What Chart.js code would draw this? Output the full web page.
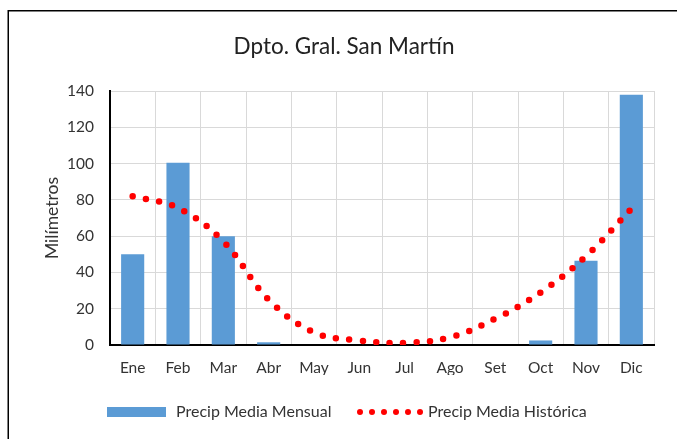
<!DOCTYPE html>
<html>
<head>
<meta charset="utf-8">
<script src="https://cdn.jsdelivr.net/npm/chart.js@4.4.0/dist/chart.umd.min.js"></script>
<style>
  html, body { margin: 0; padding: 0; background: #fff; }
  #wrap { width: 677px; height: 439px; position: relative; }
</style>
</head>
<body>
<div id="wrap"><canvas id="lluvias" width="677" height="439"></canvas></div>
<script>
// datos
const meses = ['Ene', 'Feb', 'Mar', 'Abr', 'May', 'Jun', 'Jul', 'Ago', 'Set', 'Oct', 'Nov', 'Dic'];
const precip_mensual = [50, 100.5, 60, 1.5, 0, 0, 0, 0, 0, 2.5, 46.5, 138];
const precip_historica = [82, 75.5, 57, 25, 7, 2.5, 1.2, 4.3, 14.5, 29, 49, 75];
const ticks_y = [0, 20, 40, 60, 80, 100, 120, 140];

const fuente = 'Lato, "Open Sans", sans-serif';
const gris_texto = '#333333';
const azul = '#5b9bd5';
const rojo = '#ff0000';

// titulo, leyenda y marco
const extras = {
    id: 'extras',
    afterDraw(chart) {
        const ctx = chart.ctx;
        ctx.save();
        // marco
        ctx.strokeStyle = '#000';
        ctx.lineWidth = 1.5;
        ctx.beginPath();
        ctx.moveTo(677, 10.75);
        ctx.lineTo(8.25, 10.75);
        ctx.lineTo(8.25, 439);
        ctx.stroke();

        // titulo
        ctx.fillStyle = '#222';
        ctx.font = '22.5px ' + fuente;
        ctx.textAlign = 'center';
        ctx.textBaseline = 'middle';
        ctx.fillText('Dpto. Gral. San Martín', 344, 47);

        // leyenda
        const ly = 412;
        ctx.fillStyle = azul;
        ctx.fillRect(107, ly - 5, 59, 10);
        ctx.fillStyle = gris_texto;
        ctx.font = '16px ' + fuente;
        ctx.textAlign = 'left';
        ctx.fillText('Precip Media Mensual', 176, ly);
        ctx.fillStyle = rojo;
        for (let i = 0; i < 6; i++) {
            ctx.beginPath();
            ctx.arc(360 + i * 12, ly, 3, 0, Math.PI * 2);
            ctx.fill();
        }
        ctx.fillStyle = gris_texto;
        ctx.fillText('Precip Media Histórica', 428, ly);
        ctx.restore();
    }
};

document.addEventListener("DOMContentLoaded", function () {
    const ctx = document.getElementById('lluvias').getContext('2d');
    new Chart(ctx, {
        data: {
            labels: meses,
            datasets: [
                {
                    type: 'line',
                    label: 'Precip Media Histórica',
                    data: precip_historica,
                    borderColor: rojo,
                    borderWidth: 6.5,
                    borderDash: [0, 13.5],
                    borderCapStyle: 'round',
                    pointRadius: 0,
                    tension: 0.4,
                    fill: false,
                    order: 0
                },
                {
                    type: 'bar',
                    label: 'Precip Media Mensual',
                    data: precip_mensual,
                    backgroundColor: azul,
                    borderWidth: 0,
                    barPercentage: 1,
                    categoryPercentage: 0.51,
                    order: 1
                }
            ]
        },
        options: {
            responsive: false,
            animation: false,
            layout: { padding: { left: 30, top: 91, right: 23, bottom: 64 } },
            plugins: {
                legend: { display: false },
                title: { display: false },
                tooltip: { enabled: false }
            },
            scales: {
                x: {
                    offset: true,
                    grid: { color: '#d9d9d9', offset: true, drawTicks: false },
                    border: { color: '#000', width: 2 },
                    ticks: { color: gris_texto, font: { family: fuente, size: 15.5 }, padding: 14 },
                    afterFit(scale) { scale.height = 30; }
                },
                y: {
                    min: 0,
                    max: 140,
                    afterBuildTicks(scale) { scale.ticks = ticks_y.map(v => ({ value: v })); },
                    grid: { color: '#d9d9d9', drawTicks: false },
                    border: { color: '#000', width: 2 },
                    ticks: { color: gris_texto, font: { family: fuente, size: 15.5 }, padding: 16 },
                    title: {
                        display: true,
                        text: 'Milímetros',
                        color: gris_texto,
                        font: { family: fuente, size: 17.5 },
                        padding: { top: 12, bottom: 0 }
                    },
                    afterFit(scale) { scale.width = 80; }
                }
            }
        },
        plugins: [extras]
    });
});
</script>
</body>
</html>
